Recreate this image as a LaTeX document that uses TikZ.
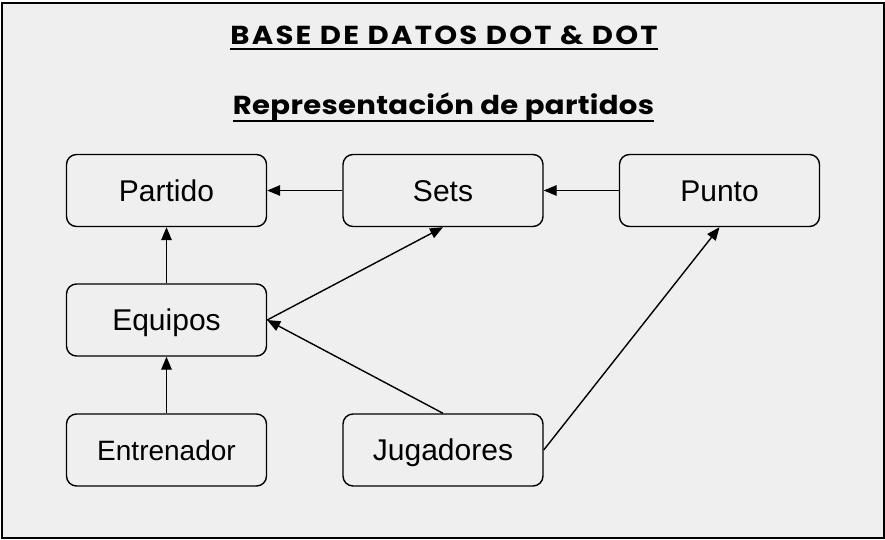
\documentclass[tikz,border=0pt]{standalone}
\usepackage{fontspec}
\setmainfont{Liberation Sans}
\newfontfamily\titlefontA{Poppins}[UprightFont=* Bold, FakeStretch=1.12, LetterSpace=8.8]
\newfontfamily\titlefontB{Poppins}[UprightFont=* Bold, FakeStretch=1.12, LetterSpace=1.2]
\usetikzlibrary{arrows.meta}
\definecolor{bg}{HTML}{EFEFEF}
\tikzset{
  box/.style={draw=black, fill=bg, line width=1.4pt, rounded corners=10pt,
    minimum width=200pt, minimum height=72pt, inner sep=0pt,
    text height=21pt, text depth=0pt,
    font=\fontsize{30}{34}\selectfont},
  conn/.style={line width=1.4pt, -{Triangle[length=13pt,width=10.5pt]}},
  ttl/.style={inner sep=0pt, anchor=base}
}
\begin{document}
\begin{tikzpicture}[x=1pt,y=-1pt]
\useasboundingbox (0,0) rectangle (885,540);
\draw[fill=bg, line width=2pt] (2,3) rectangle (884,538);
\node[ttl, font=\titlefontA\fontsize{26}{30}\selectfont] (t1) at (444,45) {BASE DE DATOS DOT \& DOT};
\node[ttl, font=\titlefontB\fontsize{26}{30}\selectfont] (t2) at (443.5,115) {Representación de partidos};
\node[box] (partido) at (166.5,190.5) {Partido};
\node[box] (sets) at (443,190.5) {Sets};
\node[box] (punto) at (719.5,190.5) {Punto};
\node[box] (equipos) at (166.5,320) {Equipos};
\node[box, font=\fontsize{28}{32}\selectfont, text height=20pt] (entrenador) at (166.5,450) {Entrenador};
\node[box] (jugadores) at (443,450) {Jugadores};
\coordinate (u1a) at ([yshift=-4.5pt]t1.base west);
\coordinate (u1b) at ([yshift=-4.5pt]t1.base east);
\coordinate (u2a) at ([yshift=-6pt]t2.base west);
\coordinate (u2b) at ([yshift=-6pt]t2.base east);
\draw[line width=2pt] (u1a) -- (u1b);
\draw[line width=2pt] (u2a) -- (u2b);
\draw[conn] (sets.west) -- (partido.east);
\draw[conn] (punto.west) -- (sets.east);
\draw[conn] (equipos.north) -- (partido.south);
\draw[conn] (entrenador.north) -- (equipos.south);
\draw[conn] (equipos.east) -- (sets.south);
\draw[conn] (jugadores.north) -- (equipos.east);
\draw[conn] (jugadores.east) -- (punto.south);
\end{tikzpicture}
\end{document}
